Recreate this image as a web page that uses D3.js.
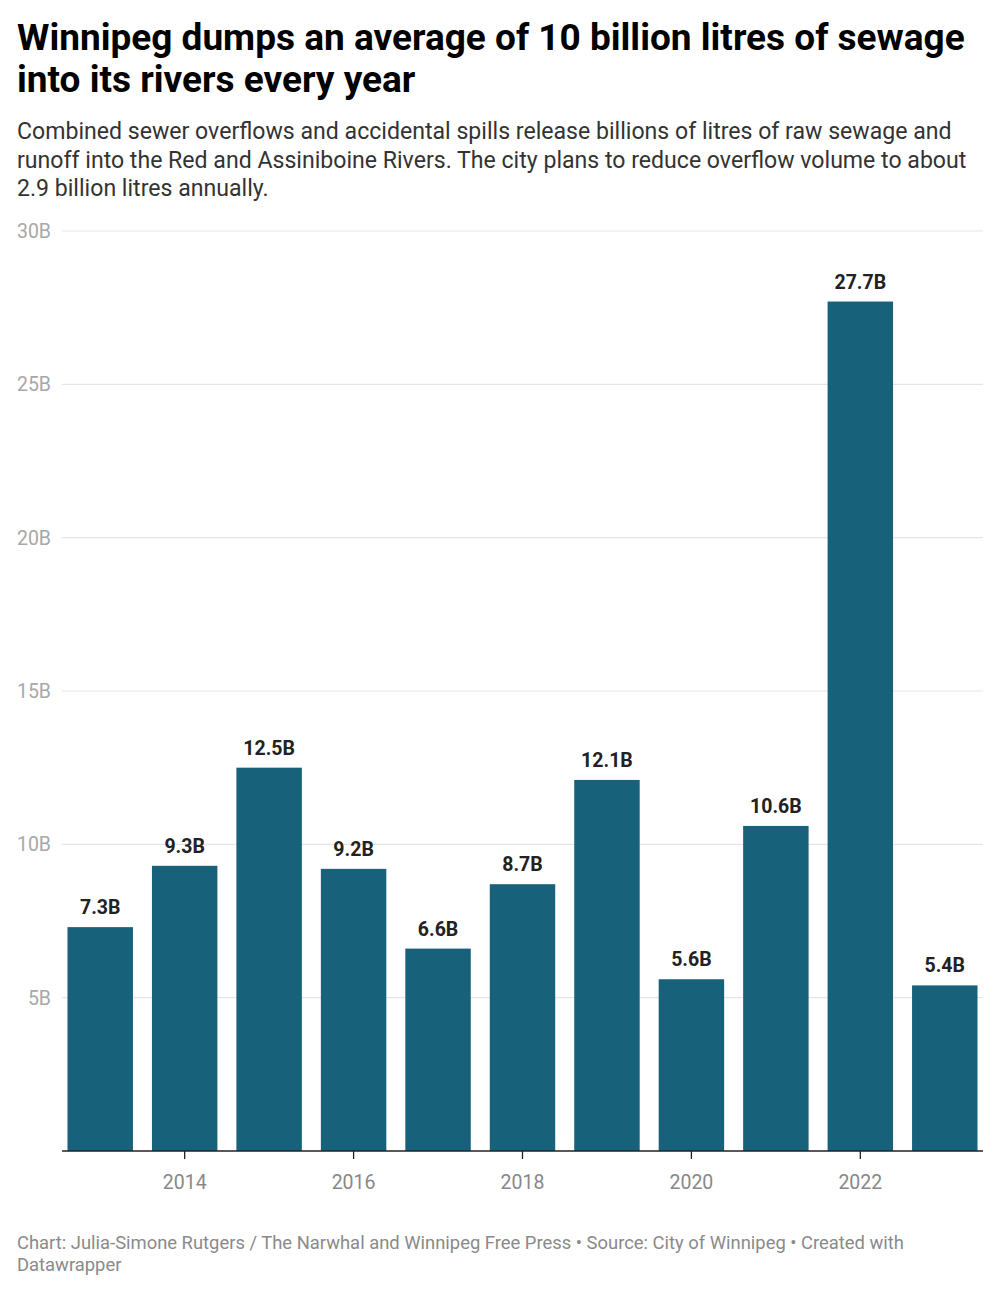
<!DOCTYPE html>
<html><head><meta charset="utf-8">
<script src="https://cdn.jsdelivr.net/npm/d3@7"></script>
<style>
body{margin:0;background:#fff;font-family:Roboto,"Noto Sans",sans-serif;}
</style></head>
<body><svg id="chart" width="1000" height="1293"></svg>
<script>
const years = [2013,2014,2015,2016,2017,2018,2019,2020,2021,2022,2023];
const values = [7.3,9.3,12.5,9.2,6.6,8.7,12.1,5.6,10.6,27.7,5.4];
const yTicks = [5,10,15,20,25,30];
const xTickYears = [2014,2016,2018,2020,2022];
const titleLines = ["Winnipeg dumps an average of 10 billion litres of sewage","into its rivers every year"];
const subtitleLines = ["Combined sewer overflows and accidental spills release billions of litres of raw sewage and","runoff into the Red and Assiniboine Rivers. The city plans to reduce overflow volume to about","2.9 billion litres annually."];
const footerLines = ["Chart: Julia-Simone Rutgers / The Narwhal and Winnipeg Free Press • Source: City of Winnipeg • Created with","Datawrapper"];

const svg = d3.select("#chart");
svg.append("rect").attr("width",1000).attr("height",1293).attr("fill","#fff");

const title = svg.append("text").attr("font-weight",700).attr("font-size",37).attr("fill","#000");
titleLines.forEach((t,i)=>title.append("tspan").attr("x",17).attr("y",50+i*42).text(t));
const sub = svg.append("text").attr("font-size",23.1).attr("fill","#333");
subtitleLines.forEach((t,i)=>sub.append("tspan").attr("x",17).attr("y",139+i*28.5).text(t));

const x = d3.scaleBand().domain(years).range([62,983]).paddingInner(0.225).paddingOuter(0.065);
const y = d3.scaleLinear().domain([0,30]).range([1151,231]);

// grid
svg.append("g").selectAll("line").data(yTicks).join("line")
  .attr("x1",62).attr("x2",983).attr("y1",d=>y(d)).attr("y2",d=>y(d))
  .attr("stroke","#e5e5e5").attr("stroke-width",1.2);
svg.append("g").selectAll("text").data(yTicks).join("text")
  .attr("x",51).attr("y",d=>y(d)+7).attr("text-anchor","end")
  .attr("font-size",19.5).attr("fill","#a8a8a8").text(d=>d+"B");

// bars
svg.append("g").selectAll("rect").data(years).join("rect")
  .attr("x",d=>x(d)).attr("width",x.bandwidth())
  .attr("y",(d,i)=>y(values[i])).attr("height",(d,i)=>y(0)-y(values[i]))
  .attr("fill","#17617b");
svg.append("g").selectAll("text").data(years).join("text")
  .attr("x",d=>x(d)+x.bandwidth()/2).attr("y",(d,i)=>y(values[i])-13)
  .attr("text-anchor","middle").attr("font-weight",700).attr("font-size",19.5).attr("fill","#222")
  .text((d,i)=>d3.format(".1f")(values[i])+"B");

// x axis
const xa = svg.append("g").attr("transform","translate(0,1151)");
xa.append("line").attr("x1",62).attr("x2",983).attr("stroke","#222").attr("stroke-width",1.5);
xa.selectAll(".tk").data(xTickYears).join("line").attr("class","tk")
  .attr("x1",d=>x(d)+x.bandwidth()/2).attr("x2",d=>x(d)+x.bandwidth()/2)
  .attr("y1",0).attr("y2",8).attr("stroke","#222").attr("stroke-width",1.3);
xa.selectAll("text").data(xTickYears).join("text")
  .attr("x",d=>x(d)+x.bandwidth()/2).attr("y",38).attr("text-anchor","middle")
  .attr("font-size",19.5).attr("fill","#888").text(d=>d);

const foot = svg.append("text").attr("font-size",18.4).attr("fill","#8a8a8a");
footerLines.forEach((t,i)=>foot.append("tspan").attr("x",17).attr("y",1249+i*22).text(t));
</script></body></html>
